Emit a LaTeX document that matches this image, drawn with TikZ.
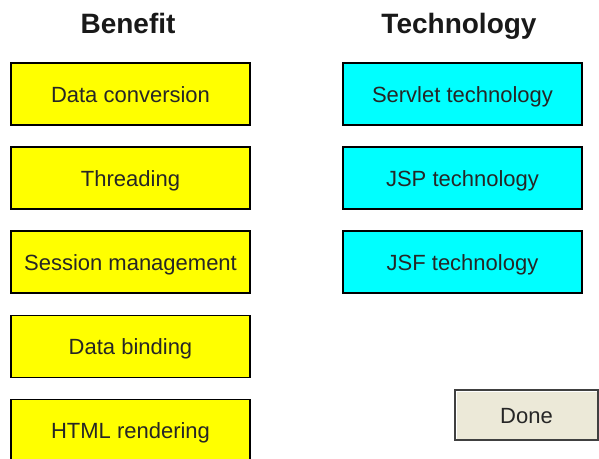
\documentclass[tikz,border=0pt]{standalone}
\usepackage{fontspec}
\setmainfont{Liberation Sans}
\definecolor{boxyellow}{HTML}{FFFF00}
\definecolor{boxcyan}{HTML}{00FFFF}
\definecolor{btnface}{HTML}{ECE9D8}
\definecolor{btndark}{HTML}{404040}
\begin{document}
\begin{tikzpicture}[x=0.75pt,y=-0.75pt,
  boxbase/.style={draw=black, line width=1.1pt, minimum width=179pt, minimum height=46.5pt,
    inner sep=0pt, text height=12pt, text depth=0pt, font=\fontsize{16.5pt}{18pt}\selectfont, text=black!85},
  benefitbox/.style={boxbase, fill=boxyellow},
  techbox/.style={boxbase, fill=boxcyan},
  headtext/.style={anchor=base, font=\fontsize{21pt}{24pt}\selectfont\bfseries, text=black!90},
  donebtn/.style={draw=btndark, line width=1.2pt, fill=btnface, minimum width=107pt, minimum height=37.5pt,
    inner sep=0pt, text height=12pt, text depth=0pt, font=\fontsize{16.5pt}{18pt}\selectfont, text=black!85}]
\fill[white] (0,0) rectangle (599,458);
\useasboundingbox (0,0) rectangle (599,458);
\begin{scope}
\clip (0,0) rectangle (599,458);
\node[headtext] (hb) at (128,33) {Benefit};
\node[headtext] (ht) at (459,33) {Technology};

\node[benefitbox] (b1) at (130.5,94) {Data conversion};
\node[benefitbox] (b2) at (130.5,178) {Threading};
\node[benefitbox] (b3) at (130.5,262) {Session management};
\node[benefitbox] (b4) at (130.5,346.5) {Data binding};
\node[benefitbox] (b5) at (130.5,430.5) {HTML rendering};

\node[techbox] (t1) at (462.5,94) {Servlet technology};
\node[techbox] (t2) at (462.5,178) {JSP technology};
\node[techbox] (t3) at (462.5,262) {JSF technology};

\node[donebtn] (done) at (526.5,415) {Done};
\draw[white, line width=1pt] ([shift={(2,-2)}]done.south west) |- ([shift={(-2,2)}]done.north east);
\end{scope}
\end{tikzpicture}
\end{document}
